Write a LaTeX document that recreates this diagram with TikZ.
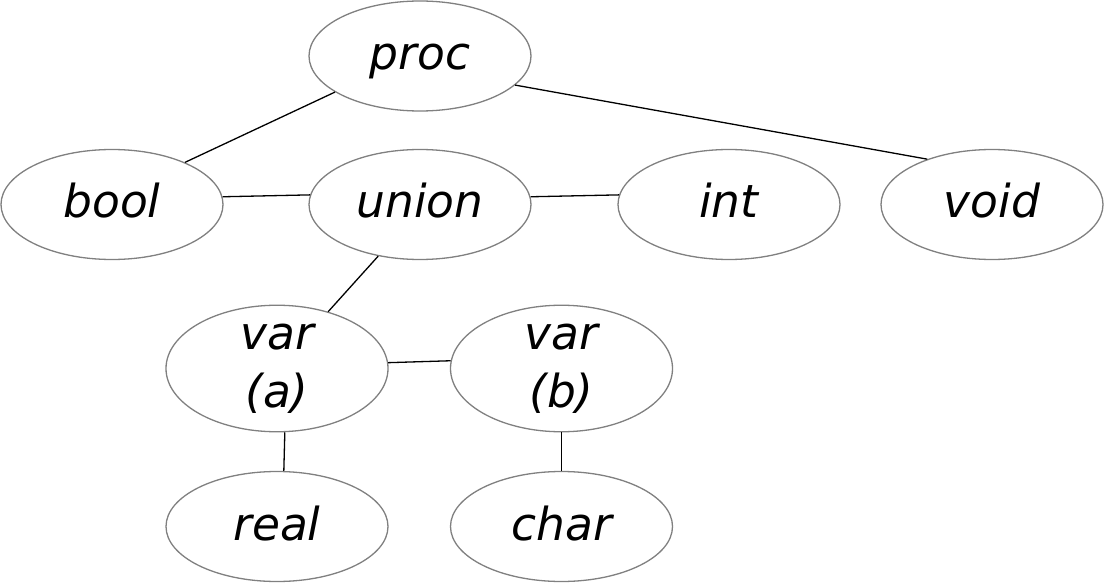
\documentclass[tikz,border=0pt]{standalone}
\usepackage{fontspec}
\setmainfont{DejaVu Sans}
\usetikzlibrary{shapes.geometric}
\tikzset{
  tnode/.style={ellipse, draw=black!50, line width=1.3pt, fill=white,
    minimum width=222pt, minimum height=110pt, inner sep=0pt,
    font=\fontsize{45.5}{58}\selectfont\itshape},
  oneline/.style={tnode, text height=34pt, text depth=7pt},
  twoline/.style={tnode, align=center},
  conn/.style={draw=black, line width=1.3pt}
}
\begin{document}
\begin{tikzpicture}[x=1pt,y=-1pt]
\useasboundingbox (0,0) rectangle (1104,583);
\node[oneline] (proc) at (420,56) {proc};
\node[oneline] (bool) at (112,204.5) {bool};
\node[oneline] (union) at (420,204.5) {union};
\node[oneline] (int) at (729,204.5) {int};
\node[oneline] (void) at (992,204.5) {void};
\node[twoline] (vara) at (277,368.5) {var\\(a)};
\node[twoline] (varb) at (561.5,368.5) {var\\(b)};
\node[oneline] (real) at (277,526.5) {real};
\node[oneline] (char) at (561.5,526.5) {char};
\draw[conn] (proc.-157) -- (bool.30.6);
\draw[conn] (proc.-17.9) -- (void.145.8);
\draw[conn] (bool.4.4) -- (union.175.6);
\draw[conn] (union.4.4) -- (int.175.6);
\draw[conn] (union.231.5) -- (vara.48.2);
\draw[conn] (vara.3.9) -- (varb.176.1);
\draw[conn] (vara.-83.8) -- (real.83.8);
\draw[conn] (varb.south) -- (char.north);
\end{tikzpicture}
\end{document}
